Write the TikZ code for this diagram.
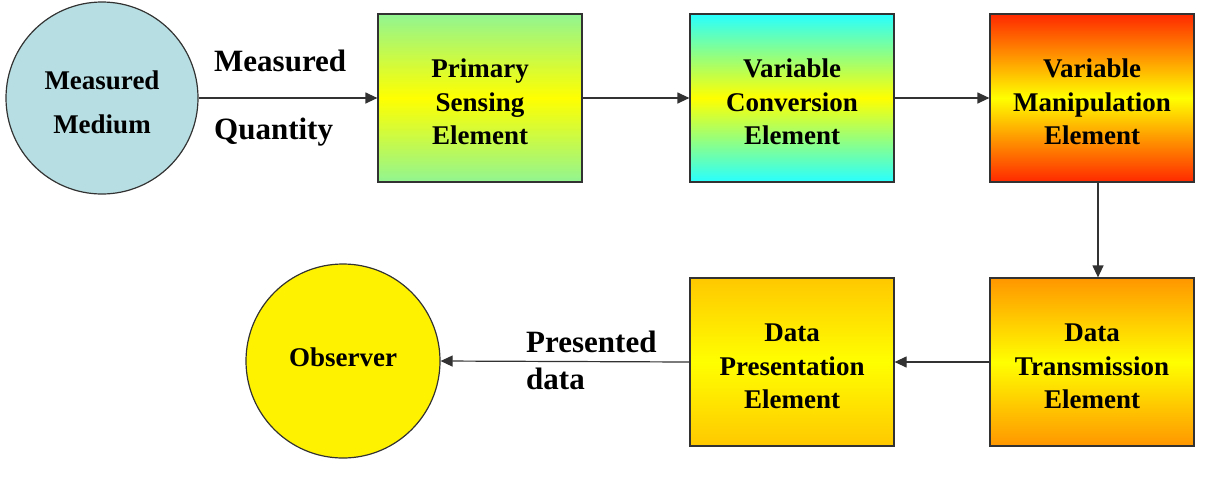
\documentclass[tikz,border=0pt]{standalone}
\usepackage{fontspec}
\setmainfont{Liberation Serif}
\usetikzlibrary{arrows.meta}
\definecolor{edge}{RGB}{50,50,50}
\definecolor{mediumblue}{RGB}{183,222,226}
\definecolor{pgreen}{RGB}{145,245,145}
\definecolor{pcyan}{RGB}{40,255,255}
\definecolor{pred}{RGB}{255,40,0}
\definecolor{porange}{RGB}{255,150,0}
\definecolor{pgold}{RGB}{255,200,0}
\newcommand{\firstline}{\rule{0pt}{26.5pt}}
\tikzset{
  x=1pt,y=-1pt,
  blk/.style={draw=edge,line width=1.2pt,minimum width=204pt,minimum height=168pt,
    align=center,inner sep=0pt,font=\fontsize{27}{33.5}\selectfont\bfseries,
    middle color=yellow},
  circ/.style={draw=edge,line width=1.2pt,circle,inner sep=0pt,align=center,
    font=\fontsize{27}{44}\selectfont\bfseries},
  lbl/.style={align=left,anchor=base west,inner sep=0pt,font=\fontsize{31}{38}\selectfont\bfseries},
  conn/.style={draw=edge,line width=1.2pt,-{Triangle[length=12pt,width=11pt]}},
}
\begin{document}
\begin{tikzpicture}
\useasboundingbox (0,0) rectangle (1206,488);
\node[circ,fill=mediumblue,minimum size=192pt] (mm) at (102,98) {\firstline Measured\\Medium};
\node[blk,top color=pgreen,bottom color=pgreen,middle color=yellow] (pse) at (480,98) {\firstline Primary\\Sensing\\Element};
\node[blk,top color=pcyan,bottom color=pcyan,middle color=yellow] (vce) at (792,98) {\firstline Variable\\Conversion\\Element};
\node[blk,top color=pred,bottom color=pred,middle color=yellow] (vme) at (1092,98) {\firstline Variable\\Manipulation\\Element};
\node[blk,top color=porange,bottom color=porange,middle color=yellow] (dte) at (1092,362) {\firstline Data\\Transmission\\Element};
\node[blk,top color=pgold,bottom color=pgold,middle color=yellow] (dpe) at (792,362) {\firstline Data\\Presentation\\Element};
\node[circ,fill=yellow,minimum size=194pt] (obs) at (343,361) {\rule[-8pt]{0pt}{8pt}Observer};
\node[lbl] (mq1) at (214,71) {Measured};
\node[lbl] (mq2) at (214,139) {Quantity};
\node[lbl] (pd1) at (526,352) {Presented};
\node[lbl] (pd2) at (526,389) {data};
\draw[conn] (mm.east) -- (pse.west);
\draw[conn] (pse.east) -- (vce.west);
\draw[conn] (vce.east) -- (vme.west);
\draw[conn] (vme.south -| 1098,0) -- (dte.north -| 1098,0);
\draw[conn] (dte.west) -- (dpe.east);
\draw[conn] (dpe.west) -- (obs.east);
\end{tikzpicture}
\end{document}
